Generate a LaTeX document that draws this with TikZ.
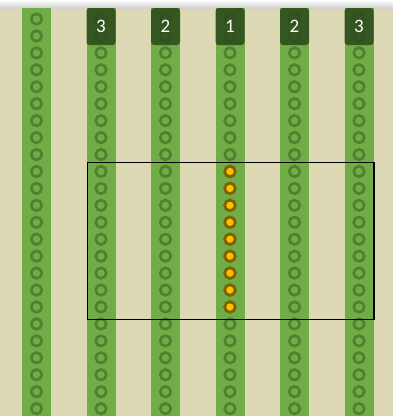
\documentclass[tikz,border=0pt]{standalone}
\usepackage{fontspec}
\newfontfamily\labelfont{Carlito}
\usepackage{xcolor}
\definecolor{bgbeige}{RGB}{221,217,180}
\definecolor{rowgreen}{RGB}{112,173,71}
\definecolor{ringgreen}{RGB}{78,130,46}
\definecolor{tagdark}{RGB}{44,74,28}
\definecolor{plantyellow}{RGB}{255,192,0}
\definecolor{plantbrown}{RGB}{128,96,0}
\usepackage{tikz}
\usetikzlibrary{positioning}

\begin{document}
\begin{tikzpicture}[
  x=1pt,y=-1pt,
  rowstrip/.style={fill=rowgreen,draw=none},
  seed/.style={circle,draw=ringgreen,line width=2.7pt,inner sep=0pt,minimum size=10.5pt},
  plant/.style={circle,draw=plantbrown,fill=plantyellow,line width=2.7pt,inner sep=0pt,minimum size=10.5pt},
  rowtag/.style={rectangle,rounded corners=3pt,fill=tagdark,fill opacity=0.88,text opacity=1,
    minimum width=29pt,minimum height=37pt,inner sep=0pt,text=white,font=\labelfont\fontsize{19}{19}\selectfont},
  plot/.style={draw=black,line width=1.7pt}
]
  \useasboundingbox (0,0) rectangle (393,416);

  % Field
  \fill[bgbeige] (0,0) rectangle (393,416);
  \shade[top color=white,bottom color=black!18] (0,0) rectangle (393,8);

  % Rows of seeds
  \foreach \r in {0,...,5}{
    \pgfmathsetmacro{\cx}{36.5+64.5*\r}
    \fill[rowstrip] (\cx-14.5,8) rectangle (\cx+14.5,416);
    \foreach \k in {0,...,23}{
      \node[seed] (s\r-\k) at (\cx,19+16.94*\k) {};
    }
  }

  % Plants in the centre row
  \foreach \k in {9,...,17}{
    \node[plant] (p\k) at (230,19+16.94*\k) {};
  }

  % Row numbers
  \node[rowtag] (t1) at (101,26.5) {3};
  \node[rowtag] (t2) at (165.5,26.5) {2};
  \node[rowtag] (t3) at (230,26.5) {1};
  \node[rowtag] (t4) at (294.5,26.5) {2};
  \node[rowtag] (t5) at (359,26.5) {3};

  % Sampling plot
  \draw[plot] (87.5,162.5) rectangle (374,319.5);
\end{tikzpicture}
\end{document}
